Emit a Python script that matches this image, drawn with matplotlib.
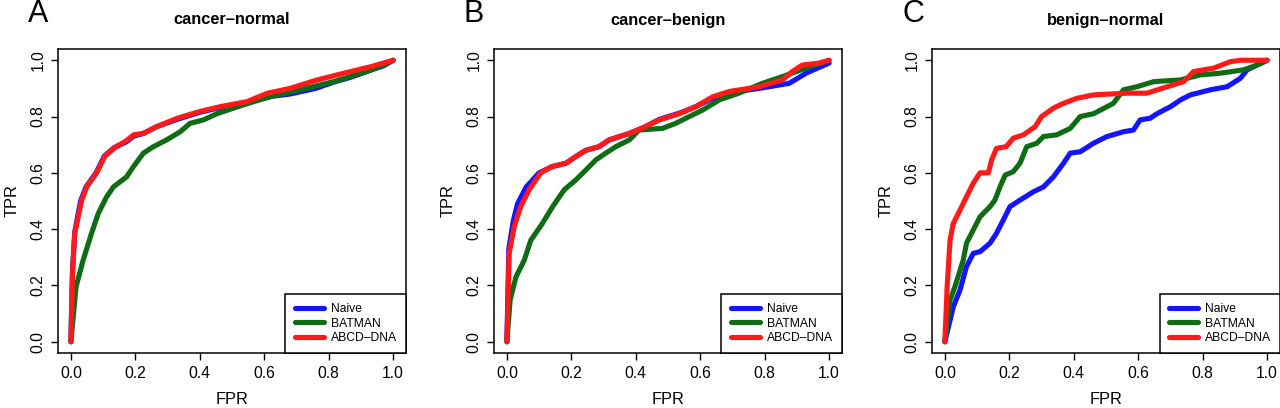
import matplotlib
matplotlib.use("Agg")
import matplotlib.pyplot as plt

plt.rcParams['font.family'] = ['Liberation Sans', 'DejaVu Sans']

panel_letters = ["A", "B", "C"]
panel_titles = ["cancer\u2013normal", "cancer\u2013benign", "benign\u2013normal"]
series_names = ["Naive", "BATMAN", "ABCD\u2013DNA"]
series_colors = ["#1414ff", "#0f6b14", "#ff1a1a"]

# Panel A (cancer-normal)
a_naive_fpr = [0, 0.005, 0.012, 0.030, 0.047, 0.078, 0.104, 0.135, 0.172, 0.194, 0.225, 0.266, 0.33, 0.40, 0.463, 0.546, 0.61, 0.68, 0.76, 0.815, 0.87, 0.93, 0.97, 1.0]
a_naive_tpr = [0, 0.25, 0.39, 0.50, 0.55, 0.60, 0.66, 0.69, 0.71, 0.73, 0.74, 0.764, 0.79, 0.815, 0.832, 0.85, 0.87, 0.88, 0.90, 0.922, 0.94, 0.965, 0.98, 1.0]
a_batman_fpr = [0, 0.016, 0.038, 0.064, 0.085, 0.111, 0.132, 0.173, 0.194, 0.225, 0.256, 0.297, 0.339, 0.37, 0.411, 0.453, 0.505, 0.567, 0.64, 0.712, 0.815, 0.92, 0.97, 1.0]
a_batman_tpr = [0, 0.195, 0.29, 0.385, 0.456, 0.515, 0.55, 0.586, 0.622, 0.67, 0.693, 0.717, 0.746, 0.776, 0.788, 0.81, 0.83, 0.853, 0.877, 0.895, 0.924, 0.96, 0.983, 1.0]
a_abcd_fpr = [0, 0.005, 0.012, 0.033, 0.049, 0.08, 0.106, 0.137, 0.173, 0.194, 0.225, 0.266, 0.33, 0.40, 0.463, 0.546, 0.61, 0.68, 0.764, 0.847, 0.93, 1.0]
a_abcd_tpr = [0, 0.25, 0.385, 0.50, 0.55, 0.60, 0.66, 0.69, 0.715, 0.735, 0.74, 0.764, 0.794, 0.818, 0.835, 0.853, 0.883, 0.90, 0.93, 0.954, 0.977, 1.0]

# Panel B (cancer-benign)
b_naive_fpr = [0, 0.006, 0.020, 0.033, 0.060, 0.10, 0.14, 0.183, 0.214, 0.245, 0.286, 0.317, 0.38, 0.43, 0.473, 0.535, 0.586, 0.638, 0.69, 0.783, 0.876, 0.93, 0.97, 1.0]
b_naive_tpr = [0, 0.33, 0.43, 0.49, 0.55, 0.60, 0.622, 0.634, 0.658, 0.68, 0.693, 0.717, 0.74, 0.764, 0.79, 0.812, 0.835, 0.865, 0.885, 0.90, 0.918, 0.955, 0.975, 0.99]
b_batman_fpr = [0, 0.01, 0.028, 0.054, 0.074, 0.11, 0.142, 0.178, 0.214, 0.245, 0.276, 0.307, 0.338, 0.38, 0.41, 0.483, 0.524, 0.566, 0.607, 0.659, 0.72, 0.793, 0.855, 0.928, 1.0]
b_batman_tpr = [0, 0.148, 0.23, 0.29, 0.36, 0.42, 0.48, 0.54, 0.575, 0.61, 0.646, 0.67, 0.693, 0.717, 0.752, 0.758, 0.776, 0.80, 0.823, 0.859, 0.883, 0.918, 0.942, 0.972, 1.0]
b_abcd_fpr = [0, 0.007, 0.023, 0.043, 0.069, 0.105, 0.14, 0.183, 0.214, 0.245, 0.286, 0.317, 0.38, 0.43, 0.473, 0.535, 0.586, 0.638, 0.69, 0.783, 0.855, 0.886, 0.917, 0.969, 1.0]
b_abcd_tpr = [0, 0.314, 0.41, 0.48, 0.54, 0.60, 0.622, 0.634, 0.658, 0.68, 0.693, 0.717, 0.74, 0.764, 0.788, 0.81, 0.835, 0.87, 0.889, 0.906, 0.93, 0.96, 0.983, 0.99, 1.0]

# Panel C (benign-normal)
c_naive_fpr = [0, 0.026, 0.047, 0.067, 0.088, 0.109, 0.14, 0.16, 0.181, 0.202, 0.233, 0.275, 0.306, 0.337, 0.368, 0.389, 0.42, 0.461, 0.503, 0.554, 0.585, 0.606, 0.637, 0.658, 0.70, 0.731, 0.762, 0.824, 0.876, 0.917, 0.938, 0.969, 1.0]
c_naive_tpr = [0, 0.124, 0.184, 0.267, 0.314, 0.32, 0.35, 0.385, 0.432, 0.48, 0.503, 0.533, 0.55, 0.586, 0.634, 0.67, 0.675, 0.705, 0.729, 0.746, 0.752, 0.788, 0.794, 0.81, 0.835, 0.859, 0.877, 0.895, 0.906, 0.936, 0.966, 0.983, 1.0]
c_batman_fpr = [0, 0.016, 0.031, 0.057, 0.067, 0.088, 0.109, 0.14, 0.155, 0.171, 0.187, 0.212, 0.233, 0.254, 0.285, 0.306, 0.347, 0.389, 0.42, 0.461, 0.503, 0.523, 0.554, 0.596, 0.648, 0.73, 0.793, 0.855, 0.927, 0.969, 1.0]
c_batman_tpr = [0, 0.148, 0.195, 0.29, 0.35, 0.397, 0.444, 0.48, 0.503, 0.55, 0.592, 0.604, 0.634, 0.693, 0.705, 0.729, 0.735, 0.758, 0.80, 0.81, 0.835, 0.847, 0.895, 0.906, 0.924, 0.93, 0.948, 0.954, 0.966, 0.983, 1.0]
c_abcd_fpr = [0, 0.007, 0.016, 0.026, 0.047, 0.067, 0.088, 0.109, 0.135, 0.145, 0.16, 0.19, 0.212, 0.244, 0.28, 0.30, 0.337, 0.368, 0.41, 0.461, 0.565, 0.627, 0.69, 0.741, 0.772, 0.834, 0.886, 0.917, 1.0]
c_abcd_tpr = [0, 0.195, 0.361, 0.42, 0.468, 0.515, 0.563, 0.60, 0.60, 0.646, 0.687, 0.693, 0.723, 0.735, 0.764, 0.80, 0.83, 0.847, 0.865, 0.877, 0.883, 0.883, 0.906, 0.924, 0.96, 0.972, 0.995, 1.0, 1.0]

panels = [
    [(a_naive_fpr, a_naive_tpr), (a_batman_fpr, a_batman_tpr), (a_abcd_fpr, a_abcd_tpr)],
    [(b_naive_fpr, b_naive_tpr), (b_batman_fpr, b_batman_tpr), (b_abcd_fpr, b_abcd_tpr)],
    [(c_naive_fpr, c_naive_tpr), (c_batman_fpr, c_batman_tpr), (c_abcd_fpr, c_abcd_tpr)],
]

ticks = [0.0, 0.2, 0.4, 0.6, 0.8, 1.0]
tick_labels = ["0.0", "0.2", "0.4", "0.6", "0.8", "1.0"]

fig = plt.figure(figsize=(12.8, 4.08), dpi=100)
W, H = 1280.0, 408.0
lefts = [58, 494, 932]
width = 348
top, bottom = 49, 353

for i, series in enumerate(panels):
    ax = fig.add_axes([lefts[i] / W, 1 - bottom / H, width / W, (bottom - top) / H])
    for (fx, ty), col, name in zip(series, series_colors, series_names):
        ax.plot(fx, ty, color=col, lw=3.7, label=name, solid_capstyle='round',
                solid_joinstyle='round')
    ax.set_xlim(-0.04, 1.04)
    ax.set_ylim(-0.04, 1.04)
    ax.set_xticks(ticks)
    ax.set_xticklabels(tick_labels, fontsize=11.3)
    ax.set_yticks(ticks)
    ax.set_yticklabels(tick_labels, fontsize=11.3, rotation=90, va='center')
    ax.tick_params(direction='out', length=5, width=1, pad=4)
    for s in ax.spines.values():
        s.set_linewidth(1.1)
    ax.set_xlabel("FPR", fontsize=11.8, labelpad=8)
    ax.set_ylabel("TPR", fontsize=11.8, labelpad=8)
    ax.text(0.5, 1.0 + 29 / 304, panel_titles[i], transform=ax.transAxes,
            ha='center', va='center', fontsize=11.8, fontweight='bold')
    ax.text(-30 / 348, 1.0 + 35 / 304, panel_letters[i], transform=ax.transAxes,
            ha='left', va='center', fontsize=22)
    leg = ax.legend(loc='lower right', borderaxespad=0, fancybox=False,
                    framealpha=1, edgecolor='black', fontsize=8.7,
                    handlelength=2.4, handletextpad=0.6, labelspacing=0.2,
                    borderpad=0.75)
    leg.get_frame().set_linewidth(1.1)

fig.savefig("out.png", dpi=100)
